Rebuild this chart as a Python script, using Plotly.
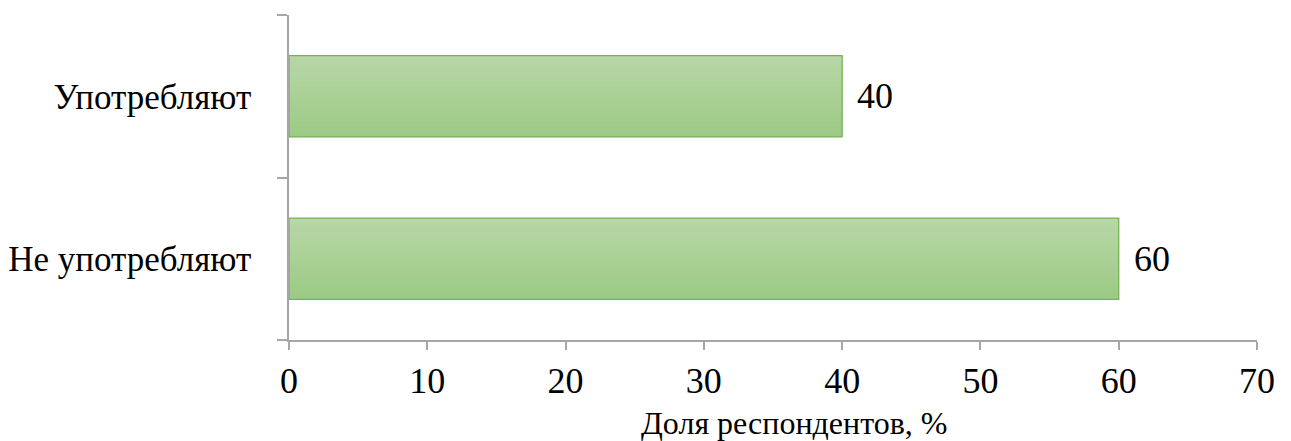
import plotly.graph_objects as go

# Survey data
categories = ["Не употребляют", "Употребляют"]
values = [60, 40]

x_ticks = [0, 10, 20, 30, 40, 50, 60, 70]
x_title = "Доля респондентов, %"

FONT = "Liberation Serif"
AXIS_GREY = "#a6a6a6"

# vertical gradient: darker at the bottom edge of the bar, lighter at the top
bottom_rgb = (157, 202, 134)
top_rgb = (183, 215, 166)
n_slices = 16
bar_width = 0.5

fig = go.Figure()

slice_w = bar_width / n_slices
for i in range(n_slices):
    t = i / (n_slices - 1)
    r, g, b = (round(bottom_rgb[k] + (top_rgb[k] - bottom_rgb[k]) * t) for k in range(3))
    # each slice overlaps the one above it so no seams show between them
    h = slice_w * 2 if i < n_slices - 1 else slice_w
    fig.add_trace(go.Bar(
        x=values, y=categories, orientation="h",
        width=h, offset=-bar_width / 2 + i * slice_w,
        marker=dict(color=f"rgb({r},{g},{b})", line=dict(width=0)),
        hoverinfo="skip", showlegend=False,
    ))

# outline of each bar
fig.add_trace(go.Bar(
    x=values, y=categories, orientation="h",
    width=bar_width, offset=-bar_width / 2,
    marker=dict(color="rgba(0,0,0,0)", line=dict(color="#76b353", width=1.3)),
    showlegend=False,
))

# value labels to the right of the bars
for cat, v in zip(categories, values):
    fig.add_annotation(
        x=v, y=cat, text=str(v), showarrow=False,
        xanchor="left", yanchor="middle", xshift=13,
        font=dict(family=FONT, size=36, color="#000000"),
    )

# x-axis title
fig.add_annotation(
    x=0.522, y=-0.255, xref="paper", yref="paper",
    text=x_title, showarrow=False, xanchor="center", yanchor="middle",
    font=dict(family=FONT, size=32, color="#000000"),
)

fig.update_layout(
    width=1291, height=441,
    margin=dict(l=289, r=34, t=15, b=101, autoexpand=False),
    paper_bgcolor="white", plot_bgcolor="white",
    barmode="overlay",
    font=dict(family=FONT, size=35, color="#000000"),
)

fig.update_xaxes(
    range=[0, 70], tickvals=x_ticks, ticktext=[str(t) for t in x_ticks],
    showgrid=False, zeroline=False, automargin=False,
    showline=True, linecolor=AXIS_GREY, linewidth=1.5,
    ticks="outside", ticklen=8, tickwidth=1.5, tickcolor=AXIS_GREY,
    tickfont=dict(family=FONT, size=36, color="#000000"),
)

fig.update_yaxes(
    type="category", categoryorder="array", categoryarray=categories,
    range=[-0.5, 1.5],
    showgrid=False, zeroline=False, automargin=False,
    showline=True, linecolor=AXIS_GREY, linewidth=1.5,
    ticks="outside", tickson="boundaries", ticklen=10, tickwidth=1.5, tickcolor=AXIS_GREY,
    tickfont=dict(family=FONT, size=35, color="#000000"),
    ticklabelstandoff=29,
)

fig.write_html("out.html")
